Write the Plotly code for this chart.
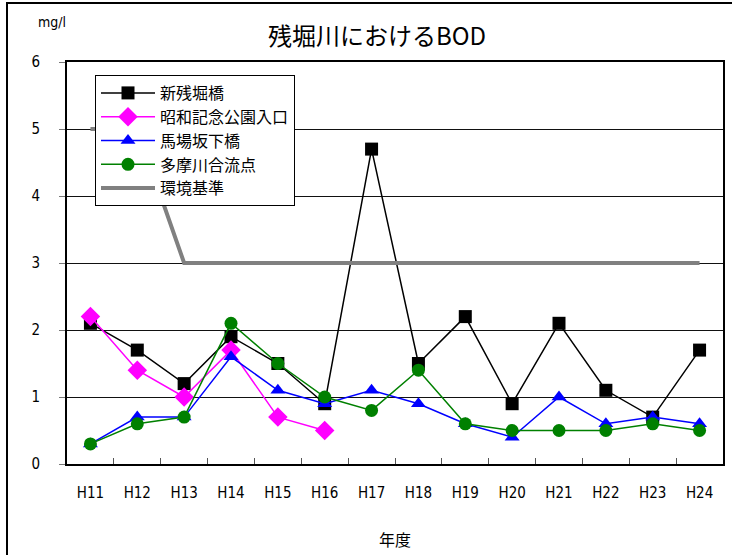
import plotly.graph_objects as go

# 年度ごとの BOD 測定値 (mg/l)
years = ["H11", "H12", "H13", "H14", "H15", "H16", "H17",
         "H18", "H19", "H20", "H21", "H22", "H23", "H24"]
shin_zanbori = [2.1, 1.7, 1.2, 1.9, 1.5, 0.9, 4.7, 1.5, 2.2, 0.9, 2.1, 1.1, 0.7, 1.7]
showa_kinen = [2.2, 1.4, 1.0, 1.7, 0.7, 0.5]
babasaka = [0.3, 0.7, 0.7, 1.6, 1.1, 0.9, 1.1, 0.9, 0.6, 0.4, 1.0, 0.6, 0.7, 0.6]
tamagawa = [0.3, 0.6, 0.7, 2.1, 1.5, 1.0, 0.8, 1.4, 0.6, 0.5, 0.5, 0.5, 0.6, 0.5]
standard = [5, 5, 3, 3, 3, 3, 3, 3, 3, 3, 3, 3, 3, 3]

FONT = "Noto Sans CJK JP"
NARROW = "DejaVu Sans Condensed, Noto Sans CJK JP"

fig = go.Figure()

series = [
    ("新残堀橋", years, shin_zanbori, "#000000", "square"),
    ("昭和記念公園入口", years[:len(showa_kinen)], showa_kinen, "#ff00ff", "diamond"),
    ("馬場坂下橋", years, babasaka, "#0000ff", "triangle-up"),
    ("多摩川合流点", years, tamagawa, "#008000", "circle"),
]
for name, xs, ys, color, sym in series:
    fig.add_trace(go.Scatter(
        x=xs, y=ys, name=name, mode="lines+markers",
        line=dict(color=color, width=1.5),
        marker=dict(symbol=sym, size=13 if sym != "diamond" else 15, color=color),
        legendgroup=name,
    ))

fig.add_trace(go.Scatter(
    x=years, y=standard, name="環境基準", mode="lines",
    line=dict(color="#808080", width=4),
    legendgroup="環境基準",
))

fig.update_layout(
    width=732, height=555,
    margin=dict(l=67, r=9, t=62, b=91),
    paper_bgcolor="white", plot_bgcolor="white",
    font=dict(family=FONT, size=14, color="black"),
    title=dict(text="残堀川におけるBOD", x=377 / 732, xanchor="center",
               y=1 - 37 / 555, yanchor="middle",
               font=dict(family=FONT, size=24, color="black")),
    showlegend=True,
    legend=dict(
        x=(95 - 67) / 656, y=(464 - 75) / 402, xanchor="left", yanchor="top",
        bgcolor="white", bordercolor="black", borderwidth=1,
        font=dict(family=FONT, size=16, color="black"),
        itemwidth=54, tracegroupgap=5, traceorder="normal",
    ),
    xaxis=dict(
        type="category", categoryorder="array", categoryarray=years,
        range=[-0.5, 13.5], tickson="boundaries", automargin=False,
        ticks="inside", ticklen=6, tickcolor="#555",
        showline=True, linecolor="black", linewidth=2, mirror=True,
        showgrid=False, ticklabelstandoff=14,
        tickfont=dict(family=NARROW, size=15),
        title=dict(text="年度", standoff=34, font=dict(family=FONT, size=16)),
    ),
    yaxis=dict(
        range=[0, 6], dtick=1, tick0=0, automargin=False,
        ticks="outside", ticklen=6, tickcolor="#777",
        showline=True, linecolor="black", linewidth=2, mirror=True,
        showgrid=True, gridcolor="#111", gridwidth=1,
        zeroline=False, ticklabelstandoff=16,
        tickfont=dict(family=NARROW, size=15),
    ),
    annotations=[dict(
        text="mg/l", xref="paper", yref="paper",
        x=(52 - 67) / 656, y=(464 - 22) / 402, xanchor="center", yanchor="middle",
        showarrow=False, font=dict(family=NARROW, size=14, color="black"),
    )],
    shapes=[dict(
        type="rect", xref="paper", yref="paper",
        x0=(7 - 67) / 656, x1=(760 - 67) / 656,
        y0=(464 - 600) / 402, y1=(464 - 3) / 402,
        line=dict(color="black", width=2), fillcolor="rgba(0,0,0,0)",
        layer="below",
    )],
)

fig.write_html("out.html")
